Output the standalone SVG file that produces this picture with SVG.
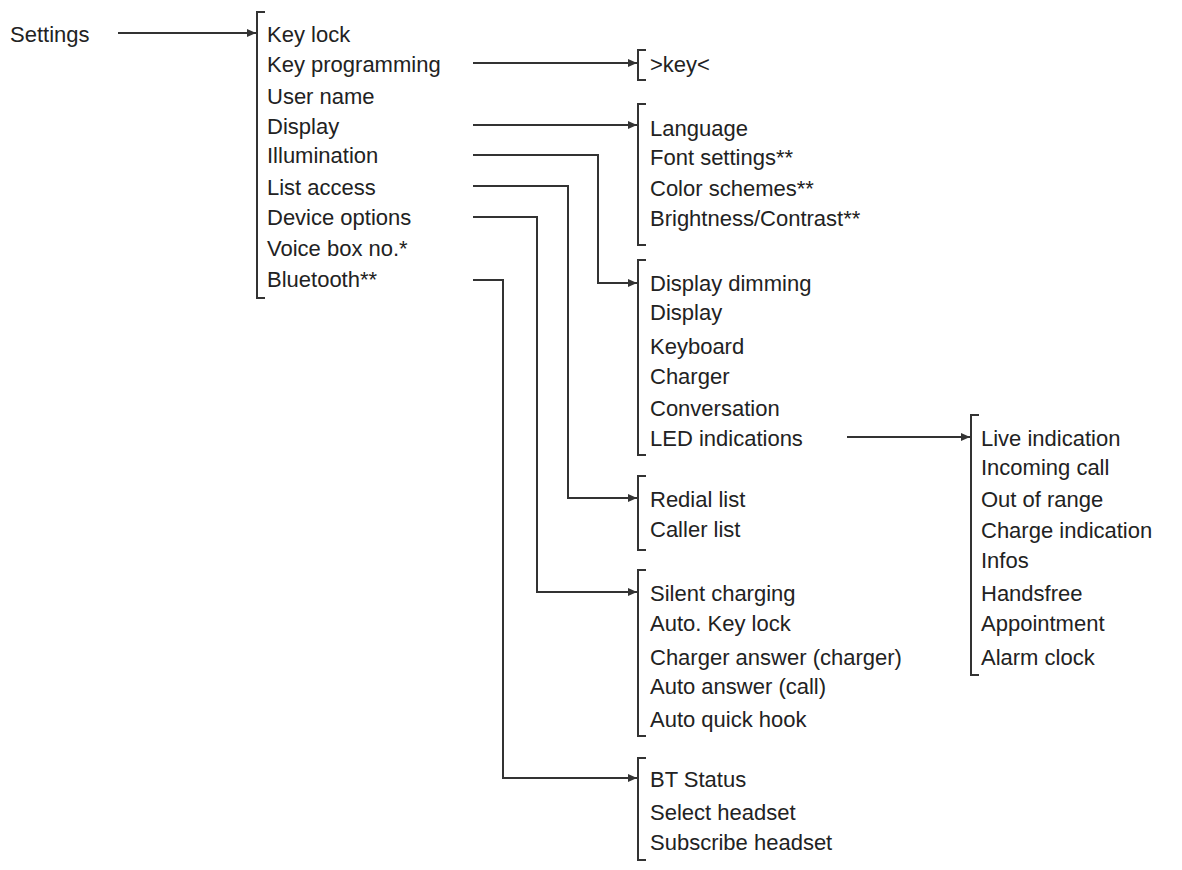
<svg xmlns="http://www.w3.org/2000/svg" width="1182" height="870" viewBox="0 0 1182 870">
<style>
text{font-family:"Liberation Sans",Arial,sans-serif;font-size:22px;fill:#222}
.l{fill:none;stroke:#333;stroke-width:2}
</style>
<defs><marker id="a" markerWidth="10" markerHeight="10" refX="9" refY="5" orient="auto" markerUnits="userSpaceOnUse"><path d="M0,1 L9,5 L0,9 Z" fill="#333"/></marker></defs>
<rect width="1182" height="870" fill="#fff"/>
<g id="connectors">
<path class="l" d="M118,33 H256" marker-end="url(#a)"/>
<path class="l" d="M473,63 H637" marker-end="url(#a)"/>
<path class="l" d="M473,125 H637" marker-end="url(#a)"/>
<path class="l" d="M473,155 H598 V283 H637" marker-end="url(#a)"/>
<path class="l" d="M473,186 H568 V498 H637" marker-end="url(#a)"/>
<path class="l" d="M473,217 H537 V592 H637" marker-end="url(#a)"/>
<path class="l" d="M473,280 H503 V778 H637" marker-end="url(#a)"/>
<path class="l" d="M847,437 H970" marker-end="url(#a)"/>
</g>
<g id="settings"><text x="10" y="42">Settings</text></g>
<g id="main">
<path class="l" d="M265,12 H257 V298 H265"/>
<text x="267" y="42">Key lock</text><text x="267" y="72">Key programming</text><text x="267" y="104">User name</text><text x="267" y="134">Display</text><text x="267" y="163">Illumination</text><text x="267" y="195">List access</text><text x="267" y="225">Device options</text><text x="267" y="256">Voice box no.*</text><text x="267" y="287">Bluetooth**</text>
</g>
<g id="key">
<path class="l" d="M646,50 H638 V80 H646"/><text x="650" y="72">&gt;key&lt;</text>
</g>
<g id="display">
<path class="l" d="M646,104 H638 V245 H646"/>
<text x="650" y="136">Language</text><text x="650" y="165">Font settings**</text><text x="650" y="196">Color schemes**</text><text x="650" y="226">Brightness/Contrast**</text>
</g>
<g id="illumination">
<path class="l" d="M646,260 H638 V455 H646"/>
<text x="650" y="291">Display dimming</text><text x="650" y="320">Display</text><text x="650" y="354">Keyboard</text><text x="650" y="384">Charger</text><text x="650" y="416">Conversation</text><text x="650" y="446">LED indications</text>
</g>
<g id="lists">
<path class="l" d="M646,476 H638 V550 H646"/>
<text x="650" y="507">Redial list</text><text x="650" y="537">Caller list</text>
</g>
<g id="device">
<path class="l" d="M646,570 H638 V736 H646"/>
<text x="650" y="601">Silent charging</text><text x="650" y="631">Auto. Key lock</text><text x="650" y="665">Charger answer (charger)</text><text x="650" y="694">Auto answer (call)</text><text x="650" y="727">Auto quick hook</text>
</g>
<g id="bluetooth">
<path class="l" d="M646,758 H638 V860 H646"/>
<text x="650" y="787">BT Status</text><text x="650" y="820">Select headset</text><text x="650" y="850">Subscribe headset</text>
</g>
<g id="led">
<path class="l" d="M979,415 H971 V675 H979"/>
<text x="981" y="446">Live indication</text><text x="981" y="475">Incoming call</text><text x="981" y="507">Out of range</text><text x="981" y="538">Charge indication</text><text x="981" y="568">Infos</text><text x="981" y="601">Handsfree</text><text x="981" y="631">Appointment</text><text x="981" y="665">Alarm clock</text>
</g>
</svg>
